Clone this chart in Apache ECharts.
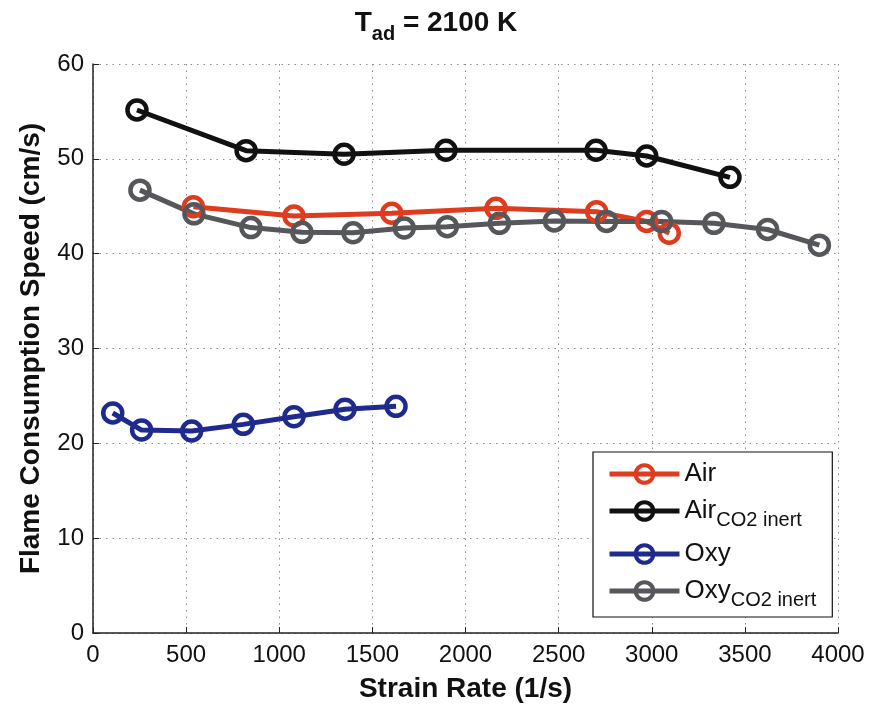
<!DOCTYPE html>
<html>
<head>
<meta charset="utf-8">
<script src="https://cdn.jsdelivr.net/npm/echarts@6/dist/echarts.min.js"></script>
<style>
  html, body { margin: 0; padding: 0; background: #fff; }
  #chart { width: 872px; height: 708px; }
</style>
</head>
<body>
<div id="chart"></div>
<script>
// Strain rate (1/s) and flame consumption speed (cm/s) for each mixture
const airStrain = [539, 1079, 1604, 2164, 2704, 2973, 3094];
const airSpeed = [44.95, 43.97, 44.26, 44.78, 44.43, 43.4, 42.15];

const airCO2Strain = [236, 822, 1348, 1895, 2701, 2973, 3420];
const airCO2Speed = [55.15, 50.86, 50.48, 50.9, 50.9, 50.3, 48.05];

const oxyStrain = [106, 261, 530, 807, 1079, 1353, 1627];
const oxySpeed = [23.2, 21.4, 21.3, 22.0, 22.8, 23.6, 23.9];

const oxyCO2Strain = [252, 542, 848, 1122, 1396, 1671, 1902, 2182, 2477, 2757, 3053, 3334, 3622, 3900];
const oxyCO2Speed = [46.7, 44.2, 42.75, 42.25, 42.2, 42.7, 42.85, 43.2, 43.45, 43.4, 43.4, 43.2, 42.55, 40.9];

const seriesNames = ['Air', 'Air CO2 inert', 'Oxy', 'Oxy CO2 inert'];
const seriesColors = ['#de3b1f', '#111111', '#1f2a8e', '#56575b'];

const FONT = '"Liberation Sans", Arial, Helvetica, sans-serif';

function pairs(xs, ys) {
  return xs.map((x, i) => [x, ys[i]]);
}

function makeSeries(name, color, xs, ys) {
  return {
    name: name,
    type: 'line',
    data: pairs(xs, ys),
    symbol: 'circle',
    symbolSize: 19,
    lineStyle: { color: color, width: 5 },
    itemStyle: { color: 'rgba(255,255,255,0)', borderColor: color, borderWidth: 4.5 },
    emphasis: { disabled: true },
    animation: false
  };
}

const chart = echarts.init(document.getElementById('chart'), null, { renderer: 'canvas' });

chart.setOption({
  backgroundColor: '#ffffff',
  animation: false,
  textStyle: { fontFamily: FONT },
  title: {
    text: '{t|T}{s|ad}{t| = 2100 K}',
    left: 'center',
    top: -3,
    textStyle: {
      rich: {
        t: { fontFamily: FONT, fontWeight: 'bold', fontSize: 28, color: '#111', lineHeight: 30 },
        s: { fontFamily: FONT, fontWeight: 'bold', fontSize: 20, color: '#111', padding: [22, 0, 0, 0] }
      }
    }
  },
  grid: { left: 93, right: 34, top: 64, bottom: 75 },
  legend: {
    orient: 'vertical',
    left: 593,
    top: 452,
    padding: [9, 16, 7, 14],
    itemGap: 11,
    itemWidth: 70,
    itemHeight: 22,
    backgroundColor: '#fff',
    borderColor: '#111',
    borderWidth: 1.2,
    data: seriesNames,
    lineStyle: { width: 5 },
    itemStyle: { borderWidth: 4 },
    formatter: function (name) {
      const parts = name.split(' ');
      if (parts.length === 1) return '{m|' + name + '}';
      return '{m|' + parts[0] + '}{s|' + parts.slice(1).join(' ') + '}';
    },
    textStyle: {
      rich: {
        m: { fontFamily: FONT, fontSize: 26, color: '#111' },
        s: { fontFamily: FONT, fontSize: 20, color: '#111', padding: [18, 0, 0, 0] }
      }
    }
  },
  xAxis: {
    type: 'value',
    min: 0,
    max: 4000,
    interval: 500,
    name: 'Strain Rate (1/s)',
    nameLocation: 'middle',
    nameGap: 42,
    nameTextStyle: { fontFamily: FONT, fontWeight: 'bold', fontSize: 28, color: '#111' },
    axisLine: { onZero: false, lineStyle: { color: '#222', width: 1.5 } },
    axisTick: { inside: true, length: 6, lineStyle: { color: '#222', width: 1 } },
    axisLabel: { fontFamily: FONT, fontSize: 24, color: '#111', margin: 10, formatter: v => String(v) },
    splitLine: { show: true, lineStyle: { color: '#8a8a8a', width: 1, type: [1.5, 5] } }
  },
  yAxis: {
    type: 'value',
    min: 0,
    max: 60,
    interval: 10,
    name: 'Flame Consumption Speed (cm/s)',
    nameLocation: 'middle',
    nameGap: 48,
    nameTextStyle: { fontFamily: FONT, fontWeight: 'bold', fontSize: 28, color: '#111' },
    axisLine: { show: true, lineStyle: { color: '#222', width: 1.5 } },
    axisTick: { show: true, inside: true, length: 6, lineStyle: { color: '#222', width: 1 } },
    axisLabel: { fontFamily: FONT, fontSize: 24, color: '#111', margin: 9 },
    splitLine: { show: true, lineStyle: { color: '#8a8a8a', width: 1, type: [1.5, 5] } }
  },
  series: [
    makeSeries(seriesNames[0], seriesColors[0], airStrain, airSpeed),
    makeSeries(seriesNames[1], seriesColors[1], airCO2Strain, airCO2Speed),
    makeSeries(seriesNames[2], seriesColors[2], oxyStrain, oxySpeed),
    makeSeries(seriesNames[3], seriesColors[3], oxyCO2Strain, oxyCO2Speed)
  ]
});
</script>
</body>
</html>
